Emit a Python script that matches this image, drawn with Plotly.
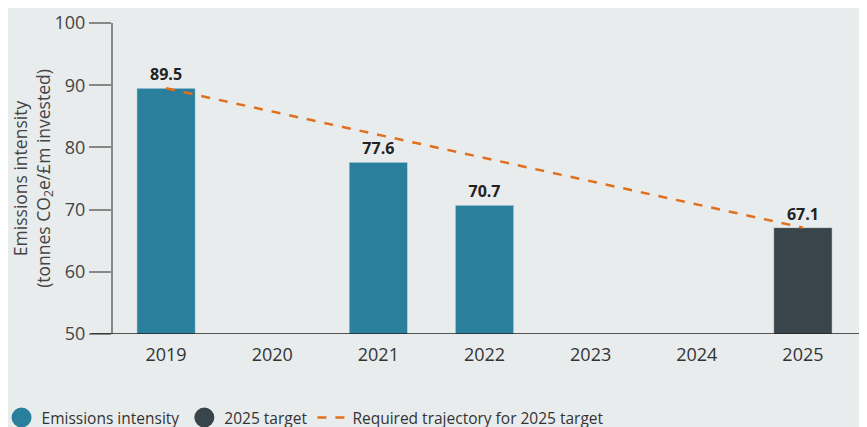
import plotly.graph_objects as go

years = ["2019", "2020", "2021", "2022", "2023", "2024", "2025"]
emissions = [89.5, None, 77.6, 70.7, None, None, None]
target = [None, None, None, None, None, None, 67.1]
traj_x = ["2019", "2025"]
traj_y = [89.5, 67.1]

teal = "#2A809C"
dark = "#38454B"
orange = "#E0701F"
bg = "#E9ECED"
font = "Open Sans"

fig = go.Figure()
fig.add_trace(go.Bar(x=years, y=emissions, marker_color=teal, width=0.55,
                     text=[f"<b>{v}</b>" if v is not None else "" for v in emissions],
                     textposition="outside", textfont=dict(size=16, color="#222", family=font),
                     showlegend=False, cliponaxis=False))
fig.add_trace(go.Bar(x=years, y=target, marker_color=dark, width=0.55,
                     text=[f"<b>{v}</b>" if v is not None else "" for v in target],
                     textposition="outside", textfont=dict(size=16, color="#222", family=font),
                     showlegend=False, cliponaxis=False))
fig.add_trace(go.Scatter(x=traj_x, y=traj_y, mode="lines",
                         line=dict(color=orange, width=2.5, dash="dash"), showlegend=False))
# legend entries
fig.add_trace(go.Scatter(x=[None], y=[None], mode="markers", name="Emissions intensity",
                         marker=dict(color=teal, size=16, symbol="circle",
                                     line=dict(color=teal, width=4))))
fig.add_trace(go.Scatter(x=[None], y=[None], mode="markers", name="2025 target",
                         marker=dict(color=dark, size=16, symbol="circle",
                                     line=dict(color=dark, width=4))))
fig.add_trace(go.Scatter(x=[None], y=[None], mode="lines", name="Required trajectory for 2025 target",
                         line=dict(color=orange, width=2.5, dash="dash")))

fig.add_shape(type="line", xref="paper", yref="y", x0=-0.0296, x1=1.03, y0=50, y1=50,
              line=dict(color="#222", width=1.5), layer="above")

fig.update_layout(
    width=867, height=427,
    margin=dict(l=105, r=19, t=15, b=101, autoexpand=False),
    paper_bgcolor=bg, plot_bgcolor=bg,
    barmode="overlay",
    font=dict(family=font, color="#333"),
    showlegend=True,
    legend=dict(orientation="h", x=-0.15, xanchor="left", y=-0.27, yanchor="middle",
                font=dict(size=15.5, color="#333"), itemwidth=30, traceorder="normal",
                bgcolor="rgba(0,0,0,0)"),
    xaxis=dict(type="category", range=[-0.5, 6.5], showgrid=False, showline=False,
               ticks="", tickfont=dict(size=18, color="#333"), zeroline=False, automargin=False,
               ticklabelstandoff=8),
    yaxis=dict(range=[50, 100], dtick=10, showgrid=False, showline=True, linecolor="#888",
               linewidth=2, ticks="outside", ticklen=22, tickcolor="#888", tickwidth=1.5,
               tickfont=dict(size=18, color="#444"), zeroline=False, automargin=False,
               title=dict(text="Emissions intensity<br>(tonnes CO<sub>2</sub>e/£m invested)",
                          font=dict(size=17.5, color="#444"), standoff=3)),
)

fig.write_html("out.html")
